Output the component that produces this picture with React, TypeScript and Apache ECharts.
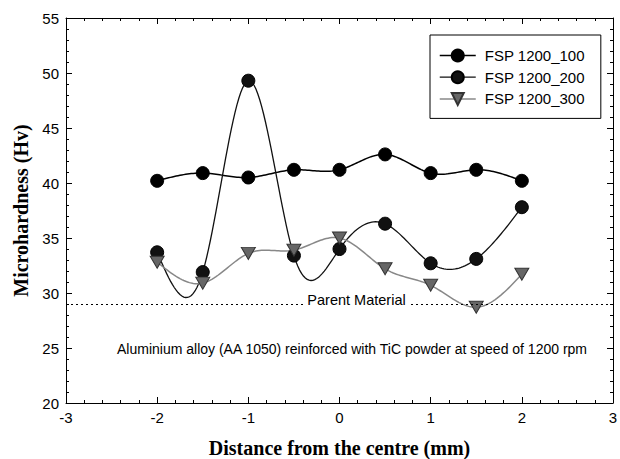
import React, { useEffect, useRef } from "react";
import * as echarts from "echarts";

const distances = [-2, -1.5, -1, -0.5, 0, 0.5, 1, 1.5, 2];
const fsp100 = [40.2, 40.9, 40.5, 41.2, 41.2, 42.6, 40.9, 41.2, 40.2];
const fsp200 = [33.7, 31.9, 49.3, 33.4, 34.0, 36.3, 32.7, 33.1, 37.8];
const fsp300 = [32.8, 30.9, 33.6, 33.9, 35.0, 32.2, 30.7, 28.7, 31.7];
const parentMaterial = 29;
const seriesNames = ["FSP 1200_100", "FSP 1200_200", "FSP 1200_300"];
const parentLabel = "Parent Material";
const noteText = "Aluminium alloy (AA 1050) reinforced with TiC powder at speed of 1200 rpm";
const xTitle = "Distance from the centre (mm)";
const yTitle = "Microhardness (Hv)";

const sans = "Liberation Sans, Arial, sans-serif";
const serif = "Liberation Serif, Times New Roman, serif";

const pairs = (ys: number[]) => distances.map((x, i) => [x, ys[i]]);

// natural cubic spline through the data points (curve drawing only)
function splineCurve(xs: number[], ys: number[], steps = 24): number[][] {
  const n = xs.length;
  const h: number[] = [];
  for (let i = 0; i < n - 1; i++) h.push(xs[i + 1] - xs[i]);
  const a: number[] = new Array(n).fill(0);
  const b: number[] = new Array(n).fill(1);
  const c: number[] = new Array(n).fill(0);
  const d: number[] = new Array(n).fill(0);
  for (let i = 1; i < n - 1; i++) {
    a[i] = h[i - 1];
    b[i] = 2 * (h[i - 1] + h[i]);
    c[i] = h[i];
    d[i] = 6 * ((ys[i + 1] - ys[i]) / h[i] - (ys[i] - ys[i - 1]) / h[i - 1]);
  }
  const cp = new Array(n).fill(0);
  const dp = new Array(n).fill(0);
  cp[0] = c[0] / b[0];
  dp[0] = d[0] / b[0];
  for (let i = 1; i < n; i++) {
    const m = b[i] - a[i] * cp[i - 1];
    cp[i] = c[i] / m;
    dp[i] = (d[i] - a[i] * dp[i - 1]) / m;
  }
  const M = new Array(n).fill(0);
  M[n - 1] = dp[n - 1];
  for (let i = n - 2; i >= 0; i--) M[i] = dp[i] - cp[i] * M[i + 1];
  const out: number[][] = [];
  for (let i = 0; i < n - 1; i++) {
    for (let s = 0; s < steps; s++) {
      const t = s / steps;
      const x = xs[i] + t * h[i];
      const A = 1 - t;
      const B = t;
      const y =
        A * ys[i] +
        B * ys[i + 1] +
        ((A * A * A - A) * M[i] + (B * B * B - B) * M[i + 1]) * (h[i] * h[i]) / 6;
      out.push([x, y]);
    }
  }
  out.push([xs[n - 1], ys[n - 1]]);
  return out;
}

const axisCommon = {
  type: "value" as const,
  axisLine: { show: true, onZero: false, lineStyle: { color: "#000", width: 1 } },
  axisTick: { show: true, inside: true, length: 6, lineStyle: { color: "#000" } },
  minorTick: { show: true, splitNumber: 5, length: 3, lineStyle: { color: "#000" } },
  splitLine: { show: false },
};

const curveSeries = (id: string, ys: number[], stroke: string, width: number) => ({
  id,
  name: id,
  type: "custom",
  data: pairs(ys),
  encode: { x: 0, y: 1 },
  z: 2,
  silent: true,
  renderItem: (params: any, api: any) => {
    if (params.dataIndex !== 0) return null;
    const pts = splineCurve(distances, ys).map((p) => api.coord(p));
    return {
      type: "polyline",
      shape: { points: pts },
      style: { stroke, lineWidth: width, fill: null },
    };
  },
});

export default function App() {
  const ref = useRef<HTMLDivElement>(null);
  useEffect(() => {
    if (!ref.current) return;
    const chart = echarts.init(ref.current, undefined, { renderer: "svg" });
    chart.setOption({
      animation: false,
      backgroundColor: "#fff",
      grid: { left: 66, right: 7, top: 18, bottom: 56, show: false, containLabel: false, outerBoundsMode: "none" },
      legend: {
        orient: "vertical",
        left: 430,
        top: 35,
        data: [
          { name: seriesNames[0], lineStyle: { color: "#000", width: 1.5, opacity: 1 } },
          { name: seriesNames[1], lineStyle: { color: "#111", width: 1.3, opacity: 1 } },
          { name: seriesNames[2], lineStyle: { color: "#888", width: 1.5, opacity: 1 } },
        ],
        backgroundColor: "#fff",
        borderColor: "#000",
        borderWidth: 1,
        padding: [13, 16, 12, 9],
        itemWidth: 36,
        itemHeight: 15,
        itemGap: 6.7,
        textStyle: { fontFamily: sans, fontSize: 15, color: "#000", padding: [0, 0, 0, 4] },
      },
      xAxis: [
        {
          ...axisCommon,
          position: "bottom",
          min: -3,
          max: 3,
          interval: 1,
          axisLabel: { color: "#000", fontSize: 15, fontFamily: sans, margin: 7 },
          name: xTitle,
          nameLocation: "middle",
          nameGap: 35,
          nameTextStyle: { fontFamily: serif, fontWeight: "bold", fontSize: 20, color: "#000", verticalAlign: "top" },
        },
        {
          ...axisCommon,
          position: "top",
          min: -3,
          max: 3,
          interval: 1,
          axisLabel: { show: false },
        },
      ],
      yAxis: [
        {
          ...axisCommon,
          position: "left",
          min: 20,
          max: 55,
          interval: 5,
          axisLabel: { color: "#000", fontSize: 15, fontFamily: sans, margin: 7 },
          name: yTitle,
          nameLocation: "middle",
          nameGap: 35,
          nameTextStyle: { fontFamily: serif, fontWeight: "bold", fontSize: 20, color: "#000" },
        },
        {
          ...axisCommon,
          position: "right",
          min: 20,
          max: 55,
          interval: 5,
          axisLabel: { show: false },
        },
      ],
      series: [
        curveSeries("curve100", fsp100, "#000", 1.5),
        curveSeries("curve200", fsp200, "#111", 1.3),
        curveSeries("curve300", fsp300, "#888", 1.5),
        {
          name: seriesNames[0],
          type: "line",
          data: pairs(fsp100),
          symbol: "circle",
          symbolSize: 13,
          lineStyle: { width: 0, opacity: 0 },
          itemStyle: { color: "#000", borderColor: "#000", borderWidth: 1 },
          z: 3,
          markLine: {
            silent: true,
            symbol: "none",
            lineStyle: { type: [2, 3], color: "#000", width: 1.2, opacity: 1 },
            label: {
              show: true,
              position: "middle",
              formatter: parentLabel,
              fontFamily: sans,
              fontSize: 14.5,
              color: "#000",
              backgroundColor: "#fff",
              padding: [0, 3, 0, 3],
              distance: -3,
              offset: [17, 0],
            },
            data: [{ yAxis: parentMaterial }],
          },
        },
        {
          name: seriesNames[1],
          type: "line",
          data: pairs(fsp200),
          symbol: "circle",
          symbolSize: 13,
          lineStyle: { width: 0, opacity: 0 },
          itemStyle: { color: "#111", borderColor: "#000", borderWidth: 1 },
          z: 3,
        },
        {
          name: seriesNames[2],
          type: "line",
          data: pairs(fsp300),
          symbol: "path://M0,0 L10,0 L5,9 Z",
          symbolSize: [14, 12],
          lineStyle: { width: 0, opacity: 0 },
          itemStyle: { color: "#666", borderColor: "#333", borderWidth: 1 },
          z: 3,
        },
      ],
      graphic: [
        {
          type: "text",
          left: 117,
          top: 342,
          style: { text: noteText, fontFamily: sans, fontSize: 14, fill: "#000" },
        },
      ],
    });
    return () => chart.dispose();
  }, []);
  return <div ref={ref} style={{ position: "fixed", left: 0, top: 0, width: 620, height: 459 }} />;
}
